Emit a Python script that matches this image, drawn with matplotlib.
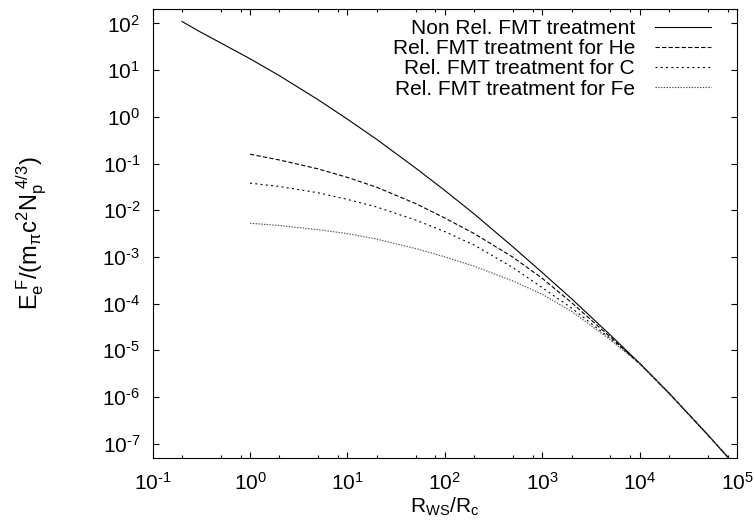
import matplotlib
matplotlib.use('Agg')
import numpy as np
import matplotlib.pyplot as plt
from matplotlib.ticker import LogLocator, NullLocator, FuncFormatter

plt.rcParams['font.family'] = ['Liberation Sans', 'DejaVu Sans']
plt.rcParams['font.size'] = 15
plt.rcParams['mathtext.fontset'] = 'custom'
plt.rcParams['mathtext.rm'] = 'Liberation Sans'
plt.rcParams['mathtext.it'] = 'Liberation Sans'
plt.rcParams['axes.unicode_minus'] = False
plt.rcParams['lines.scale_dashes'] = False
plt.rcParams['axes.linewidth'] = 0.8

# Non relativistic FMT treatment
x_nonrel = [0.2, 0.3, 0.5, 1, 2, 5, 10, 20, 50, 100, 200, 500,
            1e3, 2e3, 5e3, 1e4, 2e4, 5e4, 8e4, 8.5e4]
y_nonrel = [110, 67.8, 38.2, 17.5, 7.60, 2.32, 0.889, 0.328, 0.0802, 0.0264,
            0.00830, 0.00164, 4.61e-4, 1.27e-4, 2.12e-5, 5.26e-6, 1.21e-6,
            1.55e-7, 5.19e-8, 4.47e-8]

# Relativistic FMT treatment (He, C, Fe)
x_rel = [1, 2, 5, 10, 20, 50, 100, 200, 500, 1e3, 2e3, 5e3, 1e4,
         2e4, 5e4, 8e4, 8.5e4]
y_he = [0.158, 0.119, 0.0766, 0.0504, 0.0310, 0.0139, 0.00678, 0.00316,
        9.84e-4, 3.47e-4, 1.05e-4, 1.92e-5, 5.22e-6,
        1.21e-6, 1.55e-7, 5.19e-8, 4.47e-8]
y_c = [0.0380, 0.0322, 0.0236, 0.0170, 0.0117, 0.00617, 0.00348, 0.00179,
       5.89e-4, 2.19e-4, 8.02e-5, 1.79e-5, 5.19e-6,
       1.21e-6, 1.55e-7, 5.19e-8, 4.47e-8]
y_fe = [0.00525, 0.00470, 0.00383, 0.00315, 0.00240, 0.00151, 0.00100,
        6.32e-4, 3.05e-4, 1.58e-4, 6.81e-5, 1.68e-5, 5.13e-6,
        1.21e-6, 1.55e-7, 5.19e-8, 4.47e-8]

labels = ['Non Rel. FMT treatment', 'Rel. FMT treatment for He',
          'Rel. FMT treatment for C', 'Rel. FMT treatment for Fe']


def pow10(v, pos):
    # gnuplot style 10^n with a plain hyphen
    return r'$\mathdefault{10^{\text{%d}}}$' % int(round(np.log10(v)))


fig = plt.figure(figsize=(7.54, 5.21), dpi=100)
ax = fig.add_axes([0.2025, 0.1215, 0.775, 0.8605])

ax.plot(x_nonrel, y_nonrel, color='black', lw=0.8, label=labels[0])
ax.plot(x_rel, y_he, color='black', lw=0.8, dashes=(3.1, 1.6), label=labels[1])
ax.plot(x_rel, y_c, color='black', lw=0.8, dashes=(1.4, 2.4), label=labels[2])
ax.plot(x_rel, y_fe, color='0.3', lw=0.8, dashes=(1.0, 1.0), label=labels[3])

ax.set_xscale('log')
ax.set_yscale('log')
ax.set_xlim(1e-1, 1e5)
ax.set_ylim(5e-8, 2e2)

ax.xaxis.set_major_locator(LogLocator(base=10, numticks=20))
ax.xaxis.set_minor_locator(LogLocator(base=10, subs=(2, 5, 8), numticks=20))
ax.yaxis.set_major_locator(LogLocator(base=10, numticks=20))
ax.yaxis.set_minor_locator(NullLocator())
ax.xaxis.set_major_formatter(FuncFormatter(pow10))
ax.yaxis.set_major_formatter(FuncFormatter(pow10))

ax.tick_params(which='both', direction='in', top=True, right=True, width=0.8)
ax.tick_params(which='major', length=4.6)
ax.tick_params(which='minor', length=2.4)
ax.tick_params(axis='y', which='major', pad=9)
ax.tick_params(axis='x', which='major', pad=10.5)

ax.set_xlabel(r'$\mathrm{R_{WS}/R_c}$', labelpad=1)
ax.set_ylabel(r'$\mathrm{E_e^{\ F}/(m_\pi c^2 N_p^{\ 4/3})}$', fontsize=17,
              labelpad=38)

ax.legend(loc='upper right', bbox_to_anchor=(0.9555, 0.979), frameon=False,
          markerfirst=False, handlelength=2.7, handletextpad=0.95,
          labelspacing=0.06, borderaxespad=0, borderpad=0)

fig.savefig('out.png', dpi=100)
